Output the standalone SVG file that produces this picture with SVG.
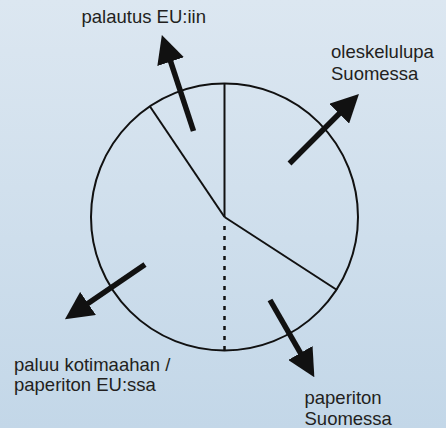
<svg xmlns="http://www.w3.org/2000/svg" width="446" height="428" viewBox="0 0 446 428">
<style>
.lbl{font-family:"Liberation Sans",Arial,sans-serif;font-size:18.5px;fill:#231f20}
.seg{stroke:#111;stroke-width:2;fill:none}
.arr{stroke:#111;stroke-width:5.5;fill:none;marker-end:url(#head)}
</style>
<defs>
<linearGradient id="bg" x1="0" y1="0" x2="0" y2="1">
<stop offset="0" stop-color="#dce7f1"/>
<stop offset="1" stop-color="#c3d7e8"/>
</linearGradient>
<marker id="head" markerUnits="userSpaceOnUse" markerWidth="28" markerHeight="28" refX="2" refY="14" orient="auto" viewBox="0 0 28 28">
<path d="M0,0 L28,14 L0,28 z" fill="#111"/>
</marker>
</defs>
<rect width="446" height="428" fill="url(#bg)"/>
<g id="pie">
<circle cx="224.5" cy="217" r="133.5" class="seg"/>
<line x1="224.5" y1="83.5" x2="224.5" y2="217" class="seg"/>
<line x1="224.5" y1="217" x2="150" y2="106.5" class="seg"/>
<line x1="224.5" y1="217" x2="337" y2="290" class="seg"/>
<line x1="224.5" y1="226" x2="224.5" y2="350" stroke="#111" stroke-width="2.5" stroke-dasharray="4 6"/>
</g>
<g id="connectors">
<line x1="193.5" y1="131" x2="170" y2="59.7" class="arr"/>
<line x1="289.5" y1="163.5" x2="340.6" y2="112.3" class="arr"/>
<line x1="145" y1="264.5" x2="86.4" y2="304.6" class="arr"/>
<line x1="270" y1="300" x2="301.4" y2="354.7" class="arr"/>
</g>
<g id="label-palautus"><text class="lbl" x="81.5" y="23">palautus EU:iin</text></g>
<g id="label-oleskelulupa"><text class="lbl" x="331" y="58">oleskelulupa</text><text class="lbl" x="331" y="79.5">Suomessa</text></g>
<g id="label-paluu"><text class="lbl" x="14" y="370.5">paluu kotimaahan /</text><text class="lbl" x="14" y="391">paperiton EU:ssa</text></g>
<g id="label-paperiton"><text class="lbl" x="304.5" y="404">paperiton</text><text class="lbl" x="304.5" y="425">Suomessa</text></g>
</svg>
